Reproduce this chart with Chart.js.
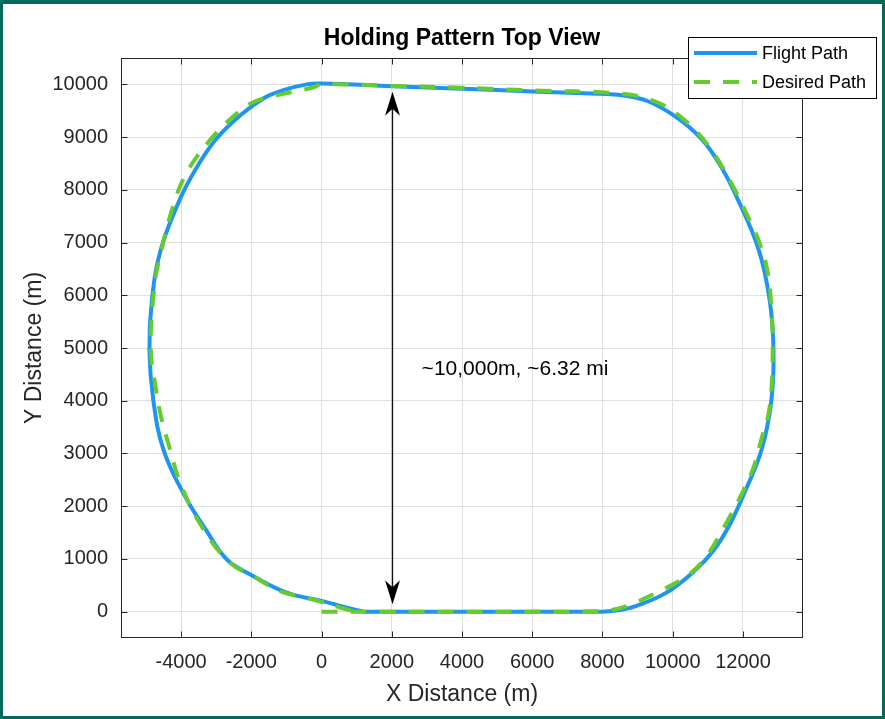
<!DOCTYPE html>
<html><head><meta charset="utf-8">
<script src="https://cdn.jsdelivr.net/npm/chart.js@4/dist/chart.umd.min.js"></script>
<style>html,body{margin:0;padding:0;background:#fff;overflow:hidden}canvas{display:block}</style>
</head><body><canvas id="c" width="885" height="719"></canvas>
<script>
const chartTitle = 'Holding Pattern Top View';
const xAxisTitle = 'X Distance (m)';
const yAxisTitle = 'Y Distance (m)';
const seriesNames = ['Flight Path', 'Desired Path'];
const xTickValues = [-4000, -2000, 0, 2000, 4000, 6000, 8000, 10000, 12000];
const yTickValues = [0, 1000, 2000, 3000, 4000, 5000, 6000, 7000, 8000, 9000, 10000];
const xLimits = [-5710, 13710];
const yLimits = [-500, 10500];

const flightX = [1200, 3000, 5000, 7000, 8000, 8500, 8970, 9820, 10600, 11150, 11600, 12000, 12530, 12810, 12870, 12760, 12450, 11860, 11350, 10800, 10100, 9300, 8600, 8100, 6000, 4000, 2000, 0, -420, -1090, -1610, -2320, -3030, -3600, -4040, -4580, -4830, -4900, -4790, -4500, -3890, -3300, -2700, -2040, -990, 30, 700, 1200];
const flightY = [0, 0, 0, 0, 0, 30, 110, 360, 760, 1150, 1620, 2190, 3070, 4010, 4960, 5910, 6860, 7810, 8470, 8980, 9380, 9680, 9790, 9815, 9866, 9916, 9965, 10015, 10000, 9890, 9750, 9410, 8940, 8370, 7810, 6860, 5910, 4960, 4010, 3070, 2190, 1560, 990, 710, 360, 200, 80, 0];

const desiredX = [0, 2000, 4000, 6000, 7920, 8400, 8820, 9630, 10390, 10900, 11500, 12240, 12520, 12760, 12850, 12810, 12710, 12480, 12100, 11650, 11000, 10200, 9400, 8400, 6000, 4000, 2000, 0, -240, -1090, -1950, -2530, -3180, -3800, -4170, -4580, -4760, -4860, -4710, -4550, -4310, -4030, -3400, -2610, -1940, -1180, -240, 620, 1000];
const desiredY = [0, 0, 0, 0, 10, 50, 140, 390, 670, 1000, 1650, 2630, 3260, 3880, 5090, 5720, 6420, 6980, 7550, 8150, 8850, 9400, 9700, 9830, 9885, 9935, 9970, 10000, 9940, 9820, 9660, 9380, 8940, 8370, 7810, 6800, 6160, 4960, 4210, 3640, 3070, 2450, 1600, 930, 670, 390, 230, 60, 0];

const arrowX = 2000;
const arrowYFrom = 140;
const arrowYTo = 9860;
const annotationText = '~10,000m, ~6.32 mi';
const annotationX = 2850;
const annotationY = 4600;

const FONT = "'Liberation Sans', Arial, sans-serif";
const AXIS_COLOR = '#262626';
const zip = (xs, ys) => xs.map((x, i) => ({x: x, y: ys[i]}));

const decor = {
  id: 'decor',
  beforeDraw(chart) {
    const ctx = chart.ctx;
    ctx.save();
    ctx.fillStyle = '#fff';
    ctx.fillRect(0, 0, chart.width, chart.height);
    ctx.restore();
  },
  afterDraw(chart) {
    const ctx = chart.ctx;
    const a = chart.chartArea;
    const xs = chart.scales.x, ys = chart.scales.y;
    ctx.save();
    ctx.strokeStyle = AXIS_COLOR;
    ctx.lineWidth = 1;
    const L = Math.round(a.left) + 0.5, R = Math.round(a.right) - 0.5, T = Math.round(a.top) + 0.5, B = Math.round(a.bottom) - 0.5;
    ctx.strokeRect(L, T, R - L, B - T);
    const tl = 6;
    ctx.beginPath();
    xTickValues.forEach(v => {
      const p = Math.round(xs.getPixelForValue(v)) + 0.5;
      ctx.moveTo(p, B); ctx.lineTo(p, B - tl);
      ctx.moveTo(p, T); ctx.lineTo(p, T + tl);
    });
    yTickValues.forEach(v => {
      const p = Math.round(ys.getPixelForValue(v)) + 0.5;
      ctx.moveTo(L, p); ctx.lineTo(L + tl, p);
      ctx.moveTo(R, p); ctx.lineTo(R - tl, p);
    });
    ctx.stroke();

    const px = Math.round(xs.getPixelForValue(arrowX)) + 0.5;
    const y1 = ys.getPixelForValue(arrowYFrom), y2 = ys.getPixelForValue(arrowYTo);
    ctx.strokeStyle = '#111';
    ctx.lineWidth = 1.3;
    ctx.beginPath(); ctx.moveTo(px, y1 - 10); ctx.lineTo(px, y2 + 10); ctx.stroke();
    ctx.fillStyle = '#000';
    const head = (tip, dir) => {
      ctx.beginPath();
      ctx.moveTo(px, tip);
      ctx.lineTo(px - 7.5, tip + dir * 24);
      ctx.lineTo(px, tip + dir * 17);
      ctx.lineTo(px + 7.5, tip + dir * 24);
      ctx.closePath();
      ctx.fill();
    };
    head(y2, 1);
    head(y1, -1);

    ctx.fillStyle = '#000';
    ctx.font = '21px ' + FONT;
    ctx.textAlign = 'left';
    ctx.textBaseline = 'middle';
    ctx.fillText(annotationText, xs.getPixelForValue(annotationX), ys.getPixelForValue(annotationY));

    ctx.font = 'bold 23px ' + FONT;
    ctx.textAlign = 'center';
    ctx.fillStyle = '#000';
    ctx.fillText(chartTitle, (a.left + a.right) / 2, 39);

    const lx = 688.5, ly = 37.5, lw = 188, lh = 61;
    ctx.fillStyle = '#fff';
    ctx.fillRect(lx, ly, lw, lh);
    ctx.strokeStyle = '#000';
    ctx.lineWidth = 1;
    ctx.strokeRect(lx, ly, lw, lh);
    const rows = [53, 82];
    chart.data.datasets.forEach((ds, i) => {
      ctx.save();
      ctx.strokeStyle = ds.borderColor;
      ctx.lineWidth = ds.borderWidth;
      ctx.setLineDash(ds.borderDash || []);
      ctx.beginPath();
      ctx.moveTo(694, rows[i]);
      ctx.lineTo(757, rows[i]);
      ctx.stroke();
      ctx.restore();
      ctx.fillStyle = '#000';
      ctx.font = '18px ' + FONT;
      ctx.textAlign = 'left';
      ctx.textBaseline = 'middle';
      ctx.fillText(ds.label, 762, rows[i] + 1);
    });

    ctx.strokeStyle = '#006a5b';
    ctx.lineWidth = 3;
    ctx.strokeRect(1.5, 1.5, chart.width - 3, chart.height - 3);
    ctx.fillStyle = '#006a5b';
    ctx.fillRect(0, 0, chart.width, 4);
    ctx.restore();
  }
};

new Chart(document.getElementById('c'), {
  type: 'scatter',
  data: {
    datasets: [
      {
        label: seriesNames[0],
        data: zip(flightX, flightY),
        showLine: true,
        borderColor: '#1e96f0',
        backgroundColor: '#1e96f0',
        borderWidth: 4,
        pointRadius: 0,
        tension: 0.4,
        fill: false,
        order: 2
      },
      {
        label: seriesNames[1],
        data: zip(desiredX, desiredY),
        showLine: true,
        borderColor: '#66cc2e',
        backgroundColor: '#66cc2e',
        borderWidth: 4,
        borderDash: [16, 13],
        pointRadius: 0,
        tension: 0.4,
        fill: false,
        order: 1
      }
    ]
  },
  options: {
    responsive: false,
    animation: false,
    devicePixelRatio: 1,
    layout: { padding: { top: 58, right: 82, bottom: 0, left: 0 } },
    plugins: {
      legend: { display: false },
      title: { display: false },
      tooltip: { enabled: false }
    },
    scales: {
      x: {
        type: 'linear',
        min: xLimits[0], max: xLimits[1],
        afterBuildTicks: s => { s.ticks = xTickValues.map(v => ({value: v})); },
        afterFit: s => { s.height = 81; },
        grid: { color: '#e0e0e0', lineWidth: 1, drawTicks: false },
        border: { display: false },
        ticks: { color: AXIS_COLOR, font: { family: FONT, size: 20 }, padding: 12, maxRotation: 0, autoSkip: false, callback: v => String(v) },
        title: { display: true, text: xAxisTitle, color: AXIS_COLOR, font: { family: FONT, size: 23 }, padding: { top: 0, bottom: 11 } }
      },
      y: {
        type: 'linear',
        min: yLimits[0], max: yLimits[1],
        afterBuildTicks: s => { s.ticks = yTickValues.map(v => ({value: v})); },
        afterFit: s => { s.width = 121; },
        grid: { color: '#e0e0e0', lineWidth: 1, drawTicks: false },
        border: { display: false },
        ticks: { color: AXIS_COLOR, font: { family: FONT, size: 20 }, padding: 13, autoSkip: false, callback: v => String(v) },
        title: { display: true, text: yAxisTitle, color: AXIS_COLOR, font: { family: FONT, size: 23 }, padding: { top: 21, bottom: 0 } }
      }
    }
  },
  plugins: [decor]
});
</script>
</body></html>
